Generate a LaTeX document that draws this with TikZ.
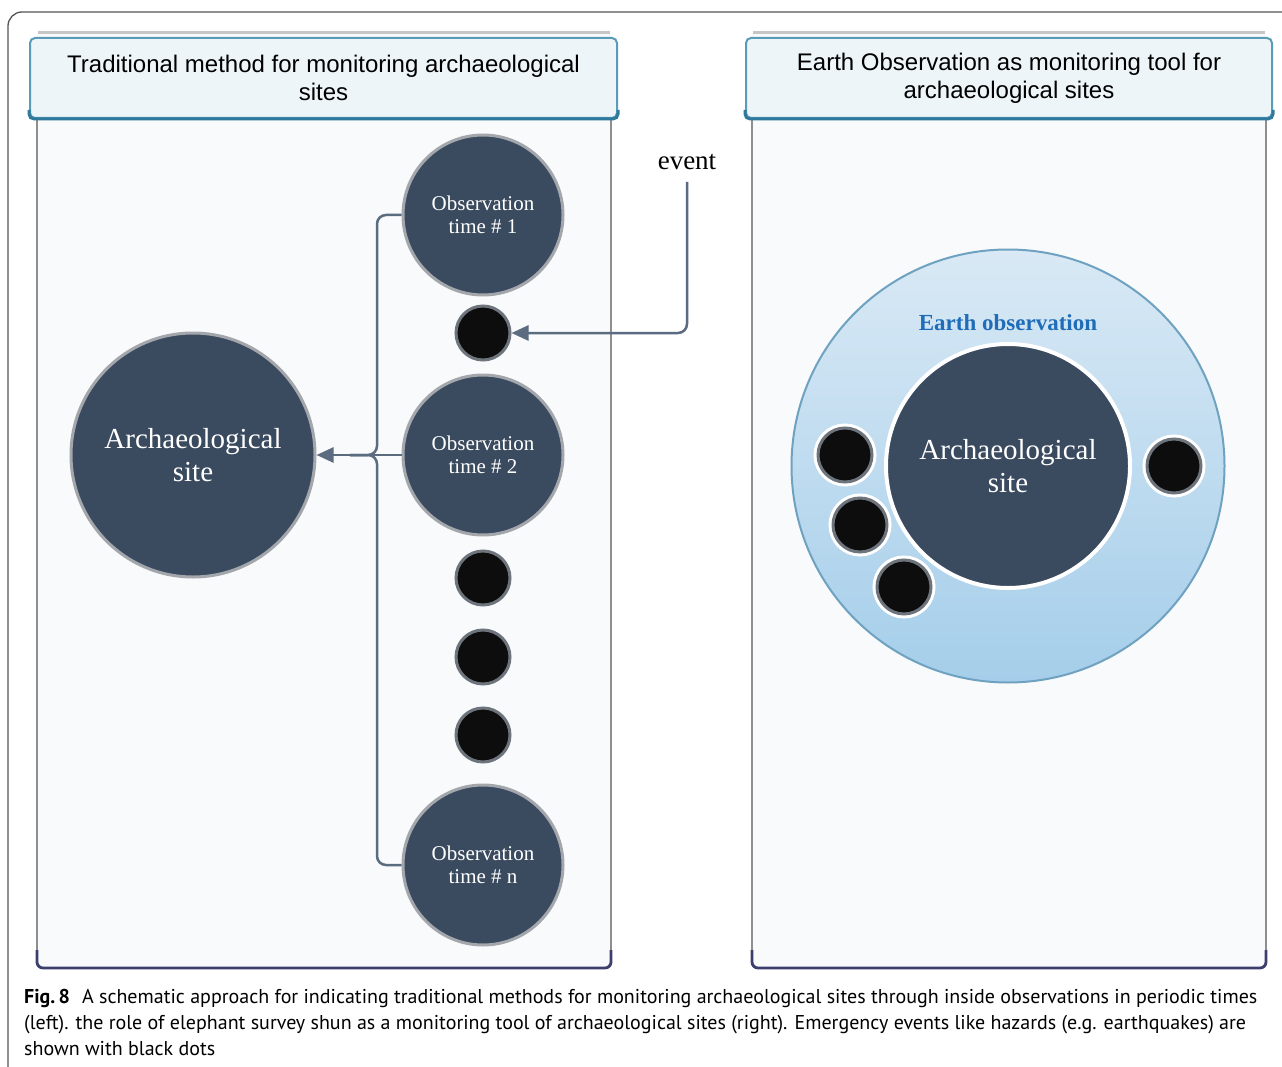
\documentclass[tikz,border=0pt]{standalone}
\usepackage{fontspec}
\setmainfont{Liberation Serif}
\newfontfamily\headfont{Liberation Sans}
\newfontfamily\capfont{PT Sans}
\usetikzlibrary{arrows.meta,shadings}

\definecolor{site}{HTML}{3A4A5F}
\definecolor{conn}{HTML}{5B6B80}
\definecolor{ringgray}{HTML}{A3A7AC}
\definecolor{dotring}{HTML}{6E747C}
\definecolor{headfill}{HTML}{EEF5F9}
\definecolor{headline}{HTML}{5A9BB8}
\definecolor{headbottom}{HTML}{2F7A9C}
\definecolor{panelfill}{HTML}{F8FAFB}
\definecolor{panelside}{HTML}{8E8E8E}
\definecolor{panelbot}{HTML}{3C3F6E}
\definecolor{eotop}{HTML}{D9E9F5}
\definecolor{eobot}{HTML}{A5CEEA}
\definecolor{eoline}{HTML}{6FA2C0}
\definecolor{eotext}{HTML}{1F6DB8}
\definecolor{framegray}{HTML}{555555}

\tikzset{
  headbox/.style={rectangle, rounded corners=5pt, fill=headfill, draw=headline,
    line width=2pt, align=center, minimum height=80pt,
    font=\headfont\fontsize{24}{28}\selectfont},
  sitenode/.style={circle, fill=site, draw=ringgray, line width=3pt, text=white,
    align=center, inner sep=0pt, minimum size=244pt,
    font=\fontsize{29}{33}\selectfont},
  obsnode/.style={circle, fill=site, draw=ringgray, line width=3pt, text=white,
    align=center, inner sep=0pt, minimum size=160pt,
    font=\fontsize{21}{23}\selectfont},
  eventdot/.style={circle, fill=black!95, draw=dotring, line width=3pt,
    inner sep=0pt, minimum size=54pt},
  ringdot/.style={eventdot, preaction={draw=white, line width=9pt}},
  link/.style={draw=conn, line width=2.5pt, rounded corners=9pt},
  tip/.style={-{Triangle[length=17pt,width=15pt]}},
  capline/.style={anchor=base west, inner sep=0pt, font=\capfont\fontsize{20}{26}\selectfont}
}

\begin{document}
\begin{tikzpicture}[x=1pt,y=-1pt]
\useasboundingbox (0,0) rectangle (1282,1067);
\fill[white] (0,0) rectangle (1282,1067);

% outer frame, open to the right and bottom
\draw[framegray, line width=1.3pt, rounded corners=14pt] (8,1067) -- (8,12) -- (1282,12);

% ---------- left panel ----------
\fill[panelfill] (37,33) rectangle (611,968);
\draw[panelside!50, line width=3pt] (38,33) -- (610,33);
\draw[panelside, line width=2.2pt] (37,118) -- (37,955);
\draw[panelside, line width=2.2pt] (611,118) -- (611,955);
\draw[panelbot, line width=2.8pt, rounded corners=6pt] (37,950) -- (37,968) -- (611,968) -- (611,950);
\node[headbox, minimum width=587pt] (lhead) at (323.5,78)
  {Traditional method for monitoring archaeological\\sites};
\draw[headbottom, line width=3pt, rounded corners=5pt] (lhead.north west |- 0,110) -- (lhead.south west) -- (lhead.south east) -- (lhead.north east |- 0,110);

% ---------- right panel ----------
\fill[panelfill] (752,33) rectangle (1266,968);
\draw[panelside!50, line width=3pt] (753,33) -- (1265,33);
\draw[panelside, line width=2.2pt] (752,118) -- (752,955);
\draw[panelside, line width=2.2pt] (1266,118) -- (1266,955);
\draw[panelbot, line width=2.8pt, rounded corners=6pt] (752,950) -- (752,968) -- (1266,968) -- (1266,950);
\node[headbox, minimum width=526pt] (rhead) at (1009,78)
  {Earth Observation as monitoring tool for\\archaeological sites};
\draw[headbottom, line width=3pt, rounded corners=5pt] (rhead.north west |- 0,110) -- (rhead.south west) -- (rhead.south east) -- (rhead.north east |- 0,110);

% ---------- left: periodic observations ----------
\node[sitenode] (lsite) at (193,455) {Archaeological\\site};
\node[obsnode] (o1) at (483,215) {Observation\\time \# 1};
\node[eventdot] (d1) at (483,333) {};
\node[obsnode] (o2) at (483,455) {Observation\\time \# 2};
\node[eventdot] (d2) at (483,578) {};
\node[eventdot] (d3) at (483,657) {};
\node[eventdot] (d4) at (483,735) {};
\node[obsnode] (on) at (483,865) {Observation\\time \# n};

\coordinate (jl) at (350,455);
\draw[link] (o1.west) -| (377,455) -- (jl);
\draw[link] (on.west) -| (377,455) -- (jl);
\draw[link, tip] (o2.west) -- (lsite.east);

\node[font=\fontsize{27}{30}\selectfont, inner sep=2pt] (event) at (687,162) {event};
\draw[link, tip] ([yshift=-10pt]event.south) |- (d1.east);

% ---------- right: earth observation ----------
\node[circle, minimum size=433pt, top color=eotop, bottom color=eobot,
      draw=eoline, line width=2pt] (eo) at (1008,466) {};
\node[font=\bfseries\fontsize{23}{26}\selectfont, text=eotext] (eolabel) at (1008,323) {Earth observation};
\node[sitenode, draw=white, line width=4pt] (rsite) at (1008,466) {Archaeological\\site};
\node[ringdot] (r1) at (845,455) {};
\node[ringdot] (r2) at (860,525) {};
\node[ringdot] (r3) at (904,587) {};
\node[ringdot] (r4) at (1174,466) {};

% ---------- caption ----------
\node[capline] (cap1) at (24,1003) {\textbf{Fig.\,8}\hspace{0.6em}A schematic approach for indicating traditional methods for monitoring archaeological sites through inside observations in periodic times};
\node[capline] (cap2) at (24,1029) {(left). the role of elephant survey shun as a monitoring tool of archaeological sites (right). Emergency events like hazards (e.g. earthquakes) are};
\node[capline] (cap3) at (24,1055) {shown with black dots};
\end{tikzpicture}
\end{document}
